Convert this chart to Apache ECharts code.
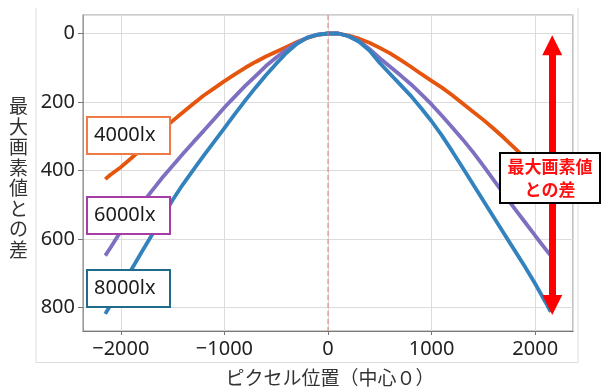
<!DOCTYPE html>
<html>
<head>
<meta charset="utf-8">
<script src="https://cdn.jsdelivr.net/npm/echarts@6/dist/echarts.min.js"></script>
<style>html,body{margin:0;padding:0;background:#fff}#c{width:601px;height:387px}</style>
</head>
<body>
<div id="c"></div>
<script>
// Pixel position (centre 0) values
const positions = [-2150,-2100,-2000,-1900,-1800,-1700,-1600,-1500,-1400,-1300,-1200,-1100,-1000,-900,-800,-700,-600,-500,-400,-300,-200,-100,0,100,200,300,400,500,600,700,800,900,1000,1100,1200,1300,1400,1500,1600,1700,1800,1900,2000,2100,2150];
// Difference from max pixel value
const diff4000 = [425,412,390,364,337,309,282,255,230,205,181,160,139,119,100,83,67,53,39,25,13,4,0,0,6,15,27,42,58,77,97,118,138,158,180,204,228,252,278,305,334,363,392,420,434];
const diff6000 = [648,625,577,538,498,459,421,386,351,317,284,250,216,184,153,124,95,70,47,27,12,3,0,0,8,22,45,72,97,122,148,177,207,240,274,309,346,386,428,469,510,550,590,629,648];
const diff8000 = [818,792,742,690,638,588,538,486,440,398,356,316,276,235,196,158,122,88,56,30,12,3,0,0,8,24,50,86,118,150,182,218,256,298,344,392,440,488,536,584,632,680,730,784,812];
const seriesNames = ['4000lx','6000lx','8000lx'];
const seriesColors = ['#e6550d','#7f6fc0','#3182bd'];
const boxColors = ['#ee7b45','#a83ca6','#1e6b8a'];
const arrowX = 2165, arrowTop = 34, arrowBottom = 792;
const xTitle = 'ピクセル位置（中心０）';
const yTitle = '最大画素値との差';
const noteText = '最大画素値\nとの差';

const chart = echarts.init(document.getElementById('c'), null, {renderer:'canvas'});
const all = [diff4000, diff6000, diff8000];
const series = all.map((arr, i) => ({
  name: seriesNames[i], type: 'line', showSymbol: false, symbol: 'none',
  data: positions.map((x, k) => [x, arr[k]]),
  lineStyle: {color: seriesColors[i], width: 3.8},
  itemStyle: {color: seriesColors[i]}, z: 2 + i, animation: false
}));
series[2].markLine = {
  silent: true, animation: false,
  symbol: ['triangle','triangle'], symbolSize: 20,
  label: {show: false},
  data: [
    [{coord:[arrowX, arrowTop], symbol:'triangle'}, {coord:[arrowX, arrowBottom], symbol:'triangle'}]
  ],
  lineStyle: {color:'#ff0000', width: 7, type:'solid'},
  itemStyle: {color:'#ff0000'}
};
series[0].markLine = {
  silent: true, animation: false, symbol: ['none','none'],
  label: {show:false},
  data: [{xAxis: 0}],
  lineStyle: {color:'rgba(240,110,110,0.65)', width:1.5, type:[5,3]}
};
const fmt = v => String(v).replace('-', '\u2212');
const boxYs = [117, 197, 270];
const graphics = [
  {type:'polyline', shape:{points:[[36,8],[36,362.5],[578,362.5],[578,8]]}, style:{stroke:'#dcdcdc', lineWidth:1, fill:null}, z:0},
  {type:'text', left: 9, top: 96, style:{text: yTitle.split('').join('\n'), font:'19px "Noto Sans CJK JP"', fill:'#333', lineHeight:20.5, align:'left'}},
  {type:'text', x: 330, y: 378, style:{text: xTitle, font:'19px "Noto Sans CJK JP"', fill:'#333', align:'center', verticalAlign:'middle'}},
];
seriesNames.forEach((n, i) => {
  graphics.push({type:'rect', shape:{x:87, y:boxYs[i], width:83, height:37}, style:{fill:'#fff', stroke:boxColors[i], lineWidth:2}, z:50});
  graphics.push({type:'text', x:94, y:boxYs[i]+18.5, style:{text:n, font:'20px "Noto Sans"', fill:'#1a1a1a', align:'left', verticalAlign:'middle'}, z:51});
});
graphics.push({type:'rect', shape:{x:500, y:153, width:100, height:50}, style:{fill:'#fff', stroke:'#000', lineWidth:2}, z:50});
graphics.push({type:'text', x:550, y:178, style:{text:noteText, font:'bold 17px "Noto Sans CJK JP"', fill:'#ff1010', align:'center', verticalAlign:'middle', lineHeight:23}, z:51});

chart.setOption({
  animation: false,
  backgroundColor: '#fff',
  grid: {left:83, right:28, top:15, bottom:56, show:true, borderColor:'#999', borderWidth:1.2, containLabel:false},
  xAxis: {
    type:'value', min:-2365, max:2365, splitNumber:5,
    axisLine:{show:true, onZero:false, lineStyle:{color:'#777', width:1.2}},
    axisTick:{show:true, length:4, lineStyle:{color:'#777'}},
    axisLabel:{show:true, showMinLabel:false, showMaxLabel:false, margin:8, color:'#222', fontSize:20, fontFamily:'Noto Sans', formatter: fmt},
    splitLine:{show:true, lineStyle:{color:'#dcdcdc', width:1}}
  },
  yAxis: {
    type:'value', inverse:true, min:-54, max:868, splitNumber:5,
    axisLine:{show:true, onZero:false, lineStyle:{color:'#999', width:1}},
    axisTick:{show:true, length:5, lineStyle:{color:'#777'}},
    axisLabel:{show:true, showMinLabel:false, showMaxLabel:false, margin:8, color:'#222', fontSize:20, fontFamily:'Noto Sans', formatter: fmt},
    splitLine:{show:true, lineStyle:{color:'#dcdcdc', width:1}}
  },
  series: series,
  graphic: graphics
});
</script>
</body>
</html>
